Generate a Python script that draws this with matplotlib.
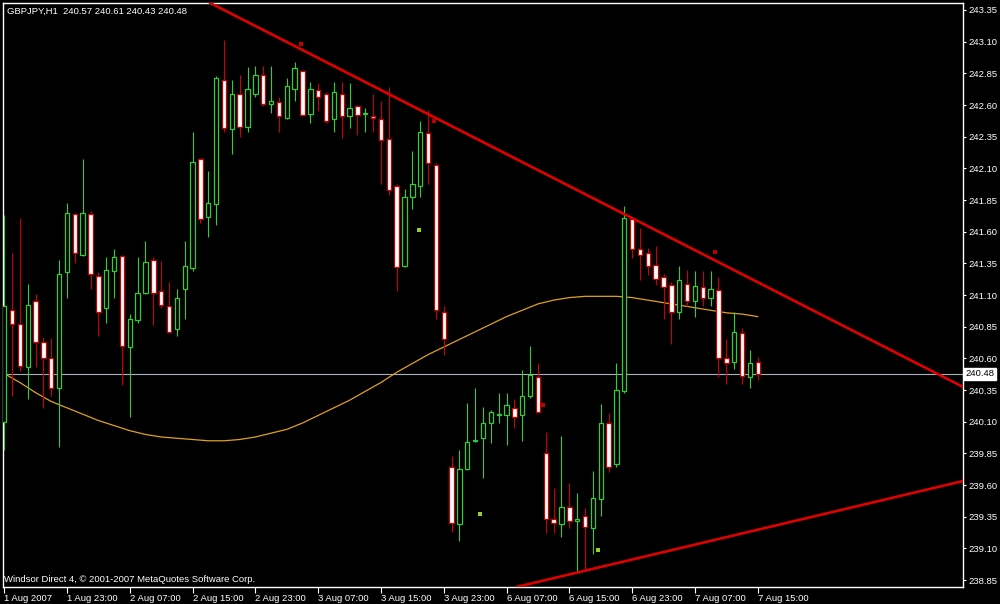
import matplotlib
matplotlib.use("Agg")
import matplotlib.pyplot as plt

# GBPJPY H1 candles, 1 Aug 15:00 .. 7 Aug 15:00 (97 bars)
opens = [
    240.10, 240.98, 240.87, 240.53, 241.05, 240.73, 240.60, 240.37, 241.28, 241.74,
    241.42, 241.74, 241.25, 241.00, 241.29, 241.41, 240.69, 240.90, 241.12, 241.38,
    241.13, 241.01, 240.83, 241.15, 241.31, 242.17, 241.72, 241.82, 242.80, 242.41,
    242.69, 242.43, 242.69, 242.84, 242.61, 242.62, 242.50, 242.73, 242.87, 242.53,
    242.72, 242.69, 242.49, 242.69, 242.51, 242.59, 242.53, 242.51, 242.49, 242.33,
    241.96, 241.33, 241.87, 241.96, 242.38, 242.13, 240.97, 239.74, 239.29, 239.73,
    239.95, 239.97, 240.09, 240.15, 240.15, 240.21, 240.15, 240.30, 240.45, 239.85,
    239.33, 239.29, 239.43, 239.32, 239.36, 239.26, 239.49, 240.09, 239.77, 240.34,
    241.70, 241.46, 241.43, 241.34, 241.24, 241.18, 240.97, 241.19, 241.05, 241.16,
    241.08, 241.14, 240.60, 240.57, 240.80, 240.45, 240.57]
highs = [
    241.73, 241.43, 241.71, 241.19, 241.11, 240.77, 240.76, 241.38, 241.83, 241.75,
    242.17, 241.76, 241.28, 241.40, 241.46, 241.42, 240.95, 241.40, 241.53, 241.40,
    241.37, 241.20, 241.15, 241.53, 242.39, 242.18, 242.08, 242.83, 243.11, 242.80,
    242.84, 242.90, 242.91, 242.91, 242.91, 242.66, 242.81, 242.94, 242.88, 242.78,
    242.77, 242.70, 242.78, 242.78, 242.77, 242.60, 242.58, 242.69, 242.63, 242.74,
    241.98, 241.94, 242.24, 242.47, 242.56, 242.14, 241.01, 239.83, 239.88, 240.25,
    240.37, 240.22, 240.19, 240.33, 240.33, 240.28, 240.51, 240.70, 240.56, 240.02,
    239.58, 239.99, 239.62, 239.54, 239.42, 239.71, 240.24, 240.17, 240.56, 241.80,
    241.72, 241.63, 241.47, 241.49, 241.27, 241.20, 241.33, 241.30, 241.29, 241.29,
    241.29, 241.24, 240.75, 240.97, 240.84, 240.67, 240.61]
lows = [
    239.88, 240.30, 240.50, 240.28, 240.53, 240.21, 240.30, 239.90, 241.08, 241.35,
    241.41, 241.15, 240.78, 240.88, 241.08, 240.39, 240.14, 240.88, 241.11, 240.86,
    241.00, 240.80, 240.78, 240.91, 241.29, 241.67, 241.56, 241.65, 242.39, 242.21,
    242.35, 242.39, 242.66, 242.59, 242.54, 242.39, 242.49, 242.63, 242.51, 242.46,
    242.55, 242.46, 242.39, 242.34, 242.42, 242.36, 242.39, 242.39, 241.98, 241.89,
    241.13, 241.32, 241.78, 241.87, 241.98, 240.91, 240.63, 239.23, 239.16, 239.72,
    239.94, 239.66, 239.93, 240.09, 239.92, 240.05, 239.95, 240.29, 240.17, 239.22,
    239.22, 239.19, 239.26, 238.91, 238.93, 239.06, 239.36, 239.70, 239.74, 240.33,
    241.39, 241.22, 241.26, 241.18, 240.91, 240.71, 240.91, 241.01, 240.93, 241.01,
    241.01, 240.45, 240.40, 240.52, 240.40, 240.37, 240.43]
closes = [
    241.01, 240.87, 240.54, 241.02, 240.73, 240.60, 240.37, 241.27, 241.75, 241.43,
    241.75, 241.27, 240.97, 241.30, 241.40, 240.70, 240.91, 241.12, 241.36, 241.12,
    241.02, 240.81, 241.08, 241.33, 242.15, 241.70, 241.83, 242.81, 242.42, 242.69,
    242.43, 242.73, 242.84, 242.61, 242.63, 242.51, 242.75, 242.89, 242.52, 242.73,
    242.66, 242.47, 242.70, 242.51, 242.58, 242.52, 242.54, 242.50, 242.32, 241.93,
    241.32, 241.87, 241.98, 242.39, 242.14, 240.98, 240.75, 239.30, 239.73, 239.94,
    239.96, 240.09, 240.18, 240.16, 240.23, 240.14, 240.30, 240.47, 240.18, 239.33,
    239.30, 239.43, 239.32, 239.33, 239.27, 239.50, 240.09, 239.74, 240.35, 241.71,
    241.46, 241.42, 241.33, 241.23, 241.16, 240.97, 241.22, 241.05, 241.17, 241.08,
    241.15, 240.60, 240.56, 240.81, 240.46, 240.56, 240.48]

# moving average
ma_bars = [0, 2, 4, 6, 8, 10, 12, 14, 16, 18, 20, 22, 24, 26, 28, 30, 32, 34, 36, 38,
           40, 42, 44, 46, 48, 50, 52, 54, 56, 58, 60, 62, 64, 66, 68, 70, 72, 74, 76, 78,
           80, 82, 84, 86, 88, 90, 92, 94, 96]
ma_vals = [240.48, 240.41, 240.33, 240.26, 240.21, 240.16, 240.11, 240.07, 240.03, 240.00,
           239.98, 239.97, 239.96, 239.95, 239.95, 239.96, 239.98, 240.01, 240.04, 240.09,
           240.15, 240.21, 240.27, 240.34, 240.41, 240.49, 240.56, 240.63, 240.69, 240.75,
           240.81, 240.87, 240.93, 240.98, 241.03, 241.06, 241.08, 241.09, 241.09, 241.09,
           241.08, 241.06, 241.04, 241.02, 241.00, 240.98, 240.96, 240.95, 240.93]

# trend lines (two anchor points each: bar, price)
upper_line = [(28, 243.35), (122, 240.38)]
lower_line = [(73, 238.91), (122, 239.63)]

# marker dots
red_dot_x = [37.8, 54.7, 68.6, 90.6]
red_dot_y = [243.08, 242.47, 240.23, 241.44]
green_dot_x = [52.8, 60.6, 75.6]
green_dot_y = [241.61, 239.37, 239.09]

last_price = 240.48
xtick_bars = [0, 8, 16, 24, 32, 40, 48, 56, 64, 72, 80, 88, 96]
xtick_labels = ["1 Aug 2007", "1 Aug 23:00", "2 Aug 07:00", "2 Aug 15:00", "2 Aug 23:00",
                "3 Aug 07:00", "3 Aug 15:00", "3 Aug 23:00", "6 Aug 07:00", "6 Aug 15:00",
                "6 Aug 23:00", "7 Aug 07:00", "7 Aug 15:00"]
ytick_labels = ["238.85", "239.10", "239.35", "239.60", "239.85", "240.10", "240.35",
                "240.60", "240.85", "241.10", "241.35", "241.60", "241.85", "242.10",
                "242.35", "242.60", "242.85", "243.10", "243.35"]

GREEN = "#32CD32"
RED = "#C80000"
plt.rcParams["font.family"] = ["Liberation Sans", "DejaVu Sans"]

fig = plt.figure(figsize=(10, 6.04), dpi=100, facecolor="black")
ax = fig.add_axes([0.003, 1 - 587 / 604, 0.960, 584 / 604])
ax.set_facecolor("black")

x = list(range(len(opens)))
bull = [c >= o for o, c in zip(opens, closes)]
wick_col = [GREEN if b else RED for b in bull]
face = ["black" if b else "white" for b in bull]
bottoms = [min(o, c) for o, c in zip(opens, closes)]
heights = [max(abs(c - o), 0.008) for o, c in zip(opens, closes)]

# wicks behind, bodies on top
ax.vlines(x, lows, highs, colors=wick_col, linewidth=0.8, zorder=3)
ax.bar(x, heights, bottom=bottoms, width=0.56, color=face, edgecolor=wick_col,
       linewidth=0.9, zorder=4)

ax.plot(ma_bars, ma_vals, color="#E0A020", linewidth=0.9, zorder=2)
ax.axhline(last_price, color="#A8B0C0", linewidth=0.8, zorder=1)
ax.axline(upper_line[0], upper_line[1], color="#E00000", linewidth=1.9, zorder=5)
ax.axline(lower_line[0], lower_line[1], color="#E00000", linewidth=1.9, zorder=5)

ax.scatter(red_dot_x, red_dot_y, marker="s", s=5, color="#C00000", linewidths=0, zorder=6)
ax.scatter(green_dot_x, green_dot_y, marker="s", s=5, color="#9ACD32", linewidths=0, zorder=6)

ax.set_xlim(-0.15, 122.15)
ax.set_ylim(238.796, 243.405)

ax.set_xticks(xtick_bars)
ax.set_xticklabels(xtick_labels, ha="left")
ax.set_yticks([float(v) for v in ytick_labels])
ax.set_yticklabels(ytick_labels)
ax.yaxis.tick_right()
ax.tick_params(axis="x", colors="white", labelcolor="white", labelsize=6.8,
               length=4, width=0.8, direction="out", pad=1)
ax.tick_params(axis="y", colors="white", labelcolor="white", labelsize=6.8,
               length=2, width=0.8, direction="out", pad=2)
for s in ax.spines.values():
    s.set_color("white")
    s.set_linewidth(1)

ax.text(0.004, 0.993, "GBPJPY,H1  240.57 240.61 240.43 240.48", transform=ax.transAxes,
        color="white", fontsize=6.8, va="top", ha="left")
ax.text(0.001, 0.009, "Windsor Direct 4, \u00a9 2001-2007 MetaQuotes Software Corp.",
        transform=ax.transAxes, color="white", fontsize=6.8, va="baseline", ha="left")
ax.text(1.003, last_price, "240.48", transform=ax.get_yaxis_transform(), color="black",
        fontsize=6.8, va="center", ha="left", zorder=10,
        bbox=dict(boxstyle="square,pad=0.15", facecolor="white", edgecolor="white"))

fig.savefig("out.png", dpi=100, facecolor="black")
